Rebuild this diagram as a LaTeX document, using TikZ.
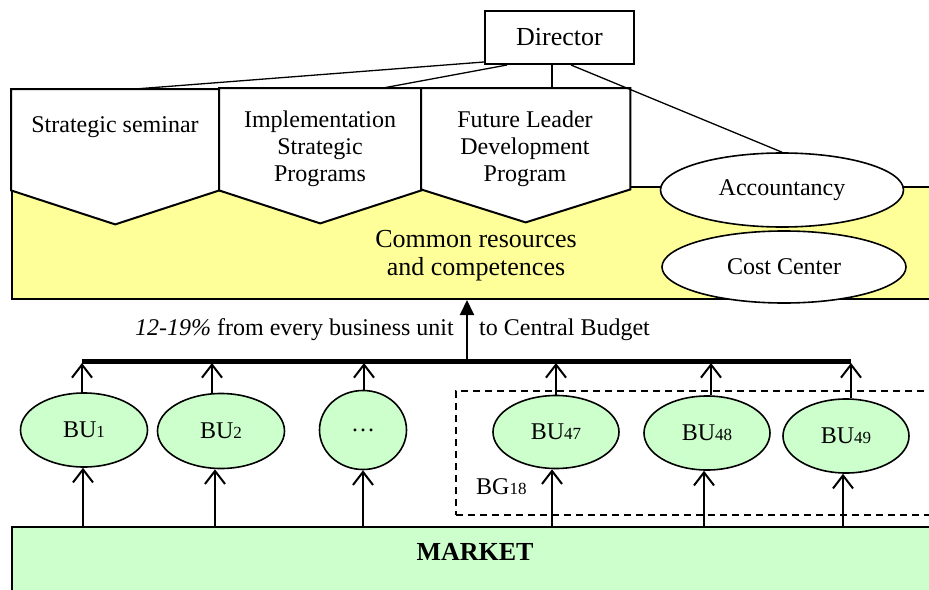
\documentclass[tikz,border=0pt]{standalone}
\usepackage{fontspec}
\setmainfont{Liberation Serif}
\usetikzlibrary{arrows.meta,calc,shapes.geometric}
\definecolor{yel}{HTML}{FFFF99}
\definecolor{grn}{HTML}{CCFFCC}
\newcommand{\sbn}[1]{{\fontsize{17}{17}\selectfont #1}}
\begin{document}
\begin{tikzpicture}[x=1pt,y=-1pt,
  txt/.style={font=\fontsize{24}{27}\selectfont, align=center, inner sep=0pt},
  big/.style={font=\fontsize{26}{28}\selectfont, align=center, inner sep=0pt},
  hold/.style={inner sep=0pt, anchor=north west},
  pent/.style={draw, line width=2pt, fill=white, line join=miter},
  ell/.style={ellipse, draw, line width=1.6pt, inner sep=0pt, font=\fontsize{24}{27}\selectfont},
  bu/.style={ell, fill=grn},
  wire/.style={line width=1.3pt},
  upar/.style={line width=2pt, -{Straight Barb[length=13pt,width=20pt]}},
  bigar/.style={line width=2pt, -{Triangle[length=15pt,width=14pt]}}]
\useasboundingbox (0,0) rectangle (929,589);
\clip (0,0) rectangle (929,589);
% common resources area
\node[hold, draw, line width=2pt, fill=yel, minimum width=934pt, minimum height=112pt] (yl) at (11,186) {};
% pentagons
\node[hold, minimum width=208pt, minimum height=101pt] (ss) at (11,89) {};
\node[hold, minimum width=202pt, minimum height=102pt] (isp) at (219,88) {};
\node[hold, minimum width=209pt, minimum height=101pt] (fl) at (421,88) {};
\draw[pent] (ss.north west) -- (ss.north east) -- (ss.south east) -- ($(ss.south)+(0,34)$) -- (ss.south west) -- cycle;
\draw[pent] (isp.north west) -- (isp.north east) -- (isp.south east) -- ($(isp.south)+(0,33)$) -- (isp.south west) -- cycle;
\draw[pent] (fl.north west) -- (fl.north east) -- (fl.south east) -- ($(fl.south)+(0,33)$) -- (fl.south west) -- cycle;
\node[txt, anchor=base] (sst) at (115,132) {Strategic seminar};
\node[txt] (ist) at (320,149) {Implementation\\Strategic\\Programs};
\node[txt] (flt) at (525,149) {Future Leader\\Development\\Program};
\node[big] (crt) at (476,256) {Common resources\\and competences};
% ellipses
\node[ell, fill=white, minimum width=243pt, minimum height=74pt] (acc) at (782,190) {Accountancy};
\node[ell, fill=white, minimum width=244pt, minimum height=72pt] (cc) at (784,267) {Cost Center};
% director
\node[draw, line width=2pt, fill=white, minimum width=149pt, minimum height=53pt, inner sep=0pt, font=\fontsize{26}{28}\selectfont] (dir) at (559.5,37.5) {Director};
\coordinate (d1) at ($(dir.south west)+(0,-3)$);
\coordinate (d2) at ($(dir.south west)+(23,0)$);
\coordinate (d3) at ($(dir.south west)+(68,0)$);
\coordinate (d4) at ($(dir.south west)+(87,0)$);
\coordinate (e1) at ($(ss.north west)+(124,0)$);
\coordinate (e2) at ($(isp.north west)+(164,0)$);
\draw[wire] (d1) -- (e1);
\draw[wire] (d2) -- (e2);
\draw[wire] (d3) -- (d3 |- fl.north);
\draw[wire] (d4) -- (acc.north);
% bus
\coordinate (busL) at (82,361);
\coordinate (busR) at (851,361);
\coordinate (busB) at (0,363);
\coordinate (busM) at (467,359);
\draw[line width=5pt] (busL) -- (busR);
\draw[bigar] (busM) -- (busM |- yl.south);
\node[txt, anchor=base east] (lt) at (454,335) {\textit{12-19\%} from every business unit};
\node[txt, anchor=base west] (rt) at (479,335) {to Central Budget};
% business group
\node[hold, draw, dash pattern=on 7pt off 5pt, line width=1.5pt, minimum width=490pt, minimum height=124pt] (bg) at (455,390) {};
\node[txt, anchor=base west] (bgl) at (476,494) {BG\sbn{18}};
% market
\node[hold, draw, line width=2pt, fill=grn, minimum width=934pt, minimum height=80pt] (mk) at (11,526) {};
\node[font=\bfseries\fontsize{26}{28}\selectfont, inner sep=0pt] (mkt) at (475,552) {MARKET};
% business units
\node[bu, minimum width=127pt, minimum height=74pt] (b1) at (84,430) {BU\sbn{1}};
\node[bu, minimum width=127pt, minimum height=75pt] (b2) at (221,431) {BU\sbn{2}};
\node[bu, minimum width=87pt, minimum height=79pt] (b3) at (363,430) {\ldots};
\node[bu, minimum width=126pt, minimum height=73pt] (b4) at (556,432) {BU\sbn{47}};
\node[bu, minimum width=126pt, minimum height=74pt] (b5) at (707,433) {BU\sbn{48}};
\node[bu, minimum width=126pt, minimum height=74pt] (b6) at (846,436) {BU\sbn{49}};
\foreach \n/\a/\b in {b1/-2/-1, b2/-9/-6, b3/1/0, b4/0/-4, b5/4/-3, b6/5/-3} {
  \coordinate (\n t) at ($(\n.north)+(\a,0)$);
  \coordinate (\n u) at ($(\n.south)+(\b,0)$);
  \draw[upar] (\n t) -- (\n t |- busB);
  \draw[upar] (\n u |- mk.north) -- (\n u);
}
\end{tikzpicture}
\end{document}
